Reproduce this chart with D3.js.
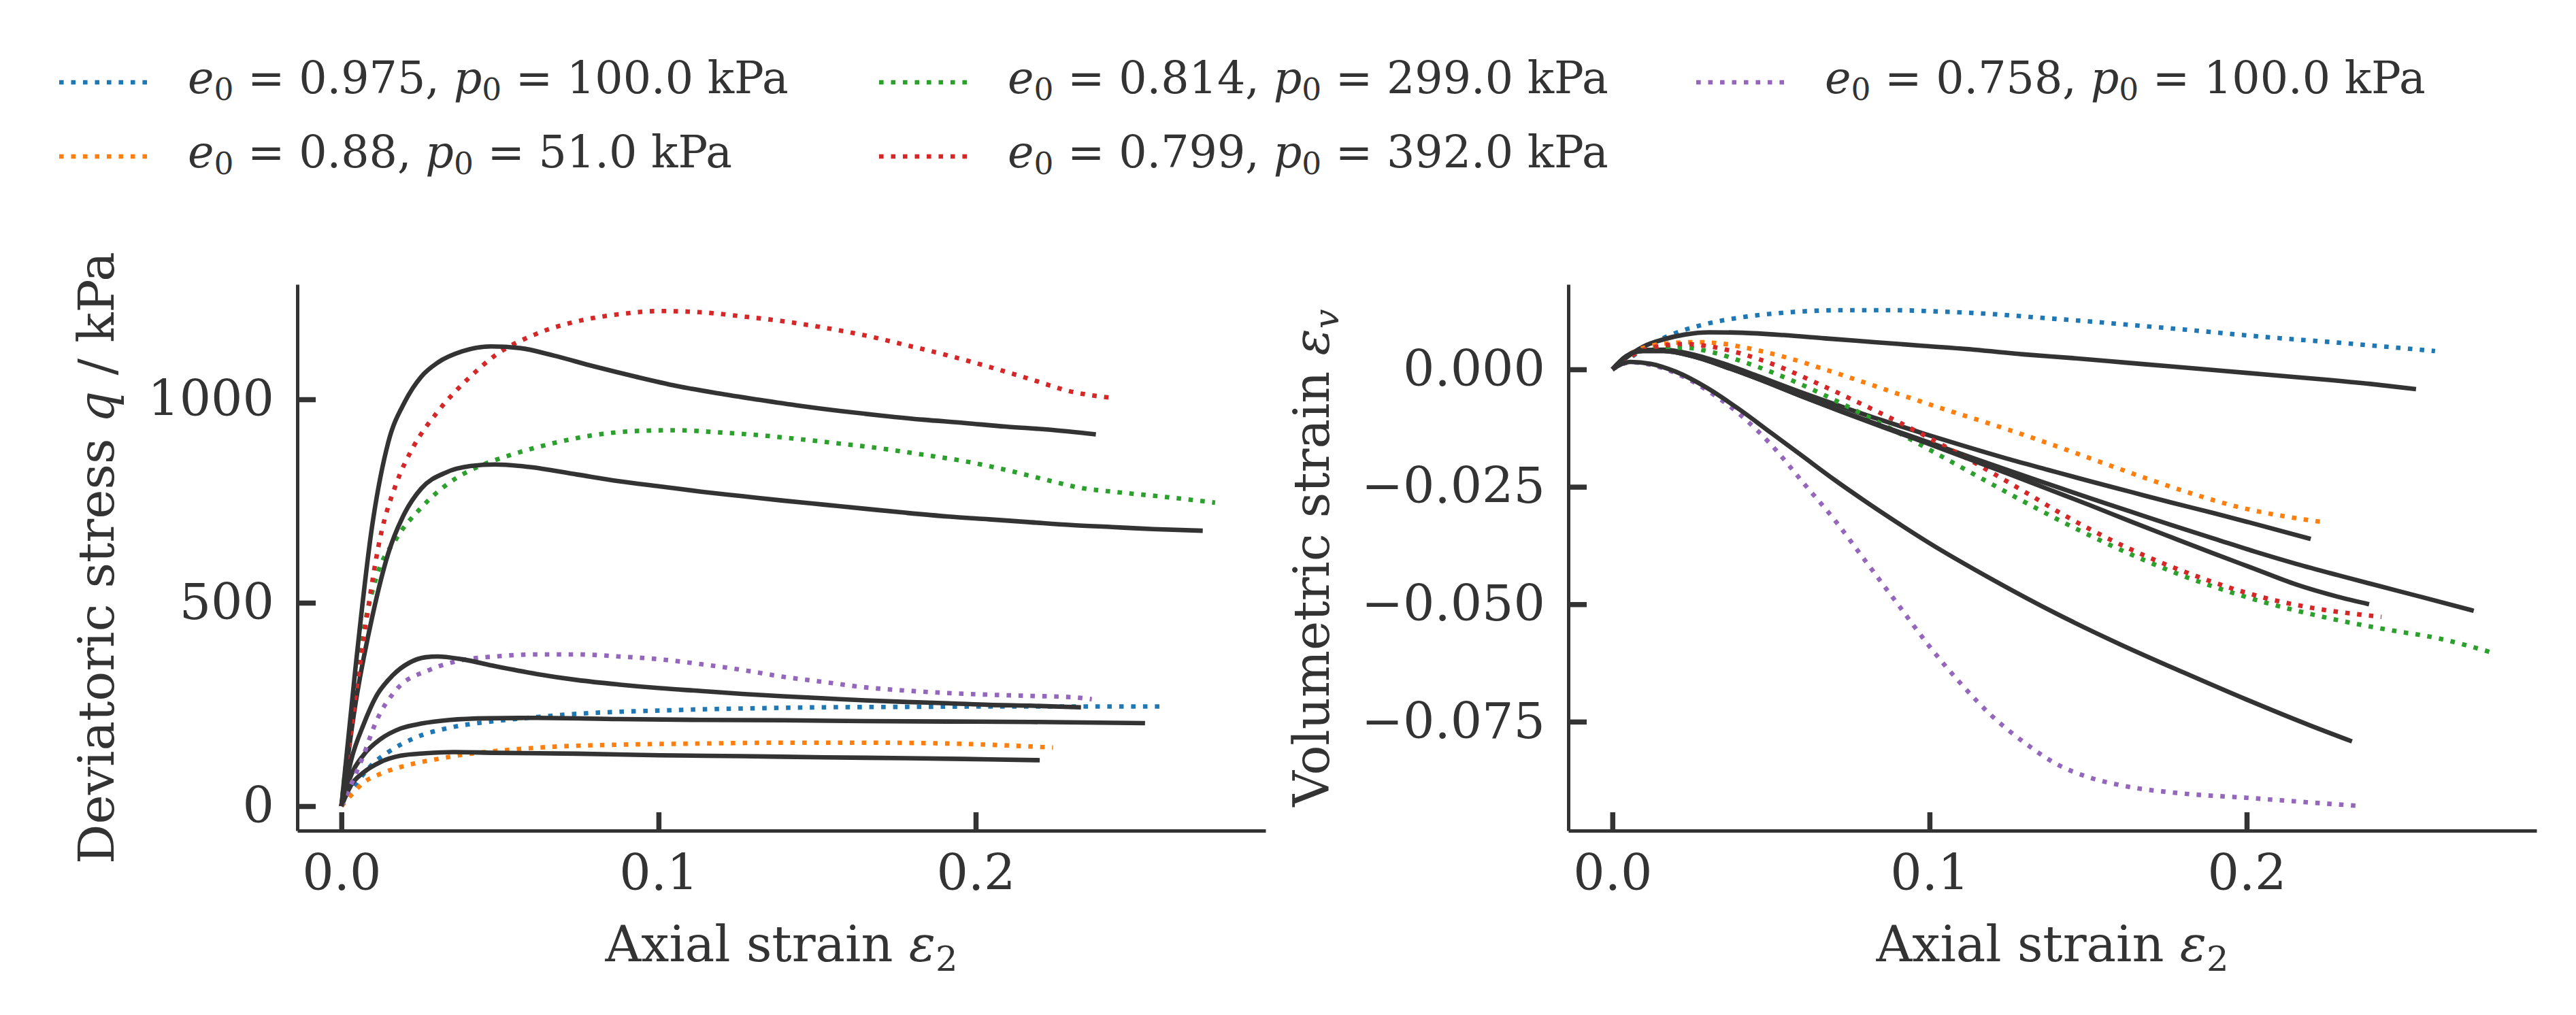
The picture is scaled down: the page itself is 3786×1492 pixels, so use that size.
<!DOCTYPE html>
<html><head><meta charset="utf-8">
<script src="https://cdn.jsdelivr.net/npm/d3@7"></script>
<style>
body{margin:0;background:#fff}
text{font-family:"DejaVu Serif",serif;fill:#333}
</style>
</head><body>
<svg id="chart" width="3786" height="1492" xmlns="http://www.w3.org/2000/svg"></svg>
<script>
// ---------------- DATA ----------------
const voidRatios = ["0.975", "0.88", "0.814", "0.799", "0.758"];
const pressures  = ["100.0", "51.0", "299.0", "392.0", "100.0"];
const seriesColors = ["#1f77b4", "#ff7f0e", "#2ca02c", "#d62728", "#9467bd"];

const xTicks = [0, 0.1, 0.2];
const xTickLabels = ["0.0", "0.1", "0.2"];
const qTicks = [0, 500, 1000];
const qTickLabels = ["0", "500", "1000"];
const evTicks = [0, -0.025, -0.05, -0.075];
const evTickLabels = ["0.000", "\u22120.025", "\u22120.050", "\u22120.075"];

// deviatoric stress, experiments (dotted) : [axial strain, q]
const expQ_975 = [[0,0],[0.0044,52],[0.0096,102],[0.0148,133],[0.0226,166],[0.0355,195],[0.0485,209],[0.0615,219],[0.0744,227],[0.0874,232],[0.1004,235],[0.1134,238],[0.1263,240],[0.1523,243],[0.1782,244],[0.2042,245],[0.2301,245],[0.2581,245]];
const expQ_880 = [[0,0],[0.0031,27],[0.007,58],[0.0122,79],[0.02,99],[0.0303,116],[0.0407,129],[0.0537,139],[0.0693,147],[0.0874,151],[0.1134,154],[0.1393,156],[0.1652,156],[0.1912,154],[0.2244,144]];
const expQ_814 = [[0,0],[0.0057,374],[0.0109,560],[0.0174,659],[0.0252,734],[0.0342,796],[0.0433,835],[0.0537,864],[0.0667,892],[0.0796,912],[0.0926,922],[0.1056,924],[0.1185,919],[0.1315,912],[0.1445,902],[0.1575,891],[0.1704,879],[0.1834,864],[0.1964,848],[0.2093,827],[0.2223,802],[0.2327,783],[0.2457,771],[0.2586,761],[0.2755,746]];
const expQ_799 = [[0,0],[0.007,411],[0.0122,659],[0.0174,795],[0.0226,882],[0.0303,969],[0.0407,1056],[0.0485,1108],[0.0615,1161],[0.0744,1192],[0.0874,1209],[0.1004,1217],[0.1134,1214],[0.1263,1204],[0.1393,1192],[0.1523,1176],[0.1652,1157],[0.1782,1133],[0.1912,1108],[0.2042,1080],[0.2171,1050],[0.2301,1019],[0.2425,1004]];
const expQ_758 = [[0,0],[0.007,126],[0.0109,207],[0.0174,287],[0.0278,335],[0.0381,359],[0.0485,368],[0.0615,373],[0.0744,373],[0.0874,368],[0.1004,361],[0.1134,349],[0.1263,335],[0.1393,318],[0.1523,305],[0.1652,292],[0.1782,284],[0.1912,278],[0.2042,274],[0.2171,271],[0.2301,268],[0.2366,263]];

// deviatoric stress, model (solid black)
const modQ_975 = [[0,0],[0.0031,77],[0.007,126],[0.0122,164],[0.0187,191],[0.0252,203],[0.0342,212],[0.0459,216],[0.0615,217],[0.0874,214],[0.1134,212],[0.1393,211],[0.1652,209],[0.1912,208],[0.2171,207],[0.2534,204]];
const modQ_880 = [[0,0],[0.0031,52],[0.007,83],[0.0122,108],[0.0187,124],[0.0265,130],[0.0355,133],[0.0485,131],[0.0744,129],[0.1004,125],[0.1263,123],[0.1523,120],[0.1782,118],[0.2042,115],[0.2202,113]];
const modQ_814 = [[0,0],[0.0044,250],[0.0096,461],[0.0148,622],[0.02,721],[0.0252,781],[0.0329,820],[0.0407,836],[0.0485,840],[0.0589,834],[0.0744,815],[0.0874,799],[0.1004,786],[0.1134,773],[0.1263,762],[0.1393,751],[0.1523,741],[0.1652,731],[0.1782,721],[0.1912,712],[0.2042,705],[0.2171,698],[0.2301,691],[0.2431,686],[0.256,681],[0.2716,677]];
const modQ_799 = [[0,0],[0.0044,337],[0.0096,684],[0.0148,895],[0.02,994],[0.0252,1056],[0.0303,1090],[0.0381,1118],[0.0472,1130],[0.0563,1126],[0.0667,1108],[0.0796,1081],[0.0926,1056],[0.1056,1033],[0.1185,1015],[0.1315,999],[0.1445,984],[0.1575,971],[0.1704,960],[0.1834,950],[0.1964,942],[0.2093,933],[0.2223,926],[0.2379,914]];
const modQ_758 = [[0,0],[0.0031,114],[0.007,201],[0.0109,269],[0.0161,321],[0.0213,352],[0.0265,366],[0.0303,368],[0.0381,361],[0.0485,344],[0.0615,325],[0.0744,310],[0.0874,299],[0.1004,290],[0.1134,283],[0.1263,276],[0.1393,270],[0.1523,265],[0.1652,260],[0.1782,256],[0.1912,253],[0.2042,249],[0.2171,247],[0.2332,243]];

// volumetric strain, experiments (dotted) : [axial strain, eps_v]
const expEv_975 = [[0,0],[0.0044,0.0019],[0.0096,0.0043],[0.0175,0.0071],[0.0279,0.0094],[0.0409,0.0111],[0.0566,0.0122],[0.0722,0.0126],[0.0879,0.0126],[0.1035,0.0123],[0.1192,0.0118],[0.1348,0.011],[0.1505,0.0102],[0.1661,0.0093],[0.1817,0.0084],[0.1974,0.0074],[0.213,0.0065],[0.2287,0.0057],[0.2443,0.0048],[0.2594,0.0039]];
const expEv_880 = [[0,0],[0.0044,0.0028],[0.011,0.0048],[0.0188,0.0056],[0.0266,0.0058],[0.0344,0.0055],[0.0435,0.0044],[0.054,0.0027],[0.067,0.0],[0.08,-0.0029],[0.0931,-0.0059],[0.1061,-0.0088],[0.1192,-0.0116],[0.1322,-0.0145],[0.1452,-0.0176],[0.1583,-0.0208],[0.1713,-0.0239],[0.1844,-0.0268],[0.1974,-0.0293],[0.2104,-0.0311],[0.225,-0.0326]];
const expEv_814 = [[0,0],[0.007,0.0035],[0.0149,0.0046],[0.0227,0.0046],[0.0305,0.0038],[0.0409,0.0017],[0.0514,-0.0009],[0.0644,-0.0047],[0.0774,-0.009],[0.0905,-0.0136],[0.1035,-0.0184],[0.1166,-0.0233],[0.1296,-0.0281],[0.1426,-0.0327],[0.1557,-0.037],[0.1687,-0.0409],[0.1817,-0.0444],[0.1948,-0.0474],[0.2078,-0.05],[0.2209,-0.0522],[0.2339,-0.0541],[0.2469,-0.0557],[0.26,-0.0572],[0.2769,-0.0602]];
const expEv_799 = [[0,0],[0.0057,0.0028],[0.0136,0.0048],[0.0227,0.0054],[0.0305,0.0049],[0.0409,0.0033],[0.0514,0.0009],[0.0644,-0.0029],[0.0774,-0.007],[0.0905,-0.0113],[0.1035,-0.0159],[0.1166,-0.0208],[0.1296,-0.0259],[0.1426,-0.0311],[0.1557,-0.0358],[0.1687,-0.0399],[0.1817,-0.0434],[0.1948,-0.0465],[0.2078,-0.049],[0.2209,-0.0508],[0.2425,-0.0527]];
const expEv_758 = [[0,0],[0.0057,0.0015],[0.012,0.001],[0.02,-0.0008],[0.03,-0.0045],[0.04,-0.0095],[0.05,-0.016],[0.06,-0.024],[0.07,-0.032],[0.08,-0.041],[0.09,-0.05],[0.1,-0.059],[0.11,-0.067],[0.12,-0.074],[0.13,-0.0795],[0.14,-0.084],[0.15,-0.0868],[0.16,-0.0885],[0.18,-0.0903],[0.2,-0.0912],[0.22,-0.0922],[0.2366,-0.093]];

// volumetric strain, model (solid black)
const modEv_975 = [[0,0],[0.0044,0.0025],[0.0096,0.0048],[0.0162,0.0064],[0.0227,0.0074],[0.0305,0.0079],[0.0409,0.0078],[0.054,0.0073],[0.067,0.0066],[0.0827,0.0058],[0.0983,0.005],[0.114,0.0042],[0.1296,0.0032],[0.1452,0.0024],[0.1609,0.0015],[0.1765,0.0006],[0.1922,-0.0003],[0.2078,-0.0012],[0.2235,-0.0021],[0.2391,-0.0031],[0.2534,-0.0042]];
const modEv_880 = [[0,0],[0.0044,0.0028],[0.0096,0.0041],[0.0162,0.0042],[0.0253,0.0032],[0.0357,0.0011],[0.0462,-0.0015],[0.0592,-0.0048],[0.0722,-0.0079],[0.0853,-0.0109],[0.0983,-0.0137],[0.1113,-0.0164],[0.1244,-0.019],[0.1374,-0.0214],[0.1505,-0.0238],[0.1635,-0.0261],[0.1765,-0.0284],[0.1896,-0.0306],[0.2026,-0.0329],[0.2202,-0.0361]];
const modEv_814 = [[0,0],[0.0044,0.0028],[0.0096,0.0039],[0.0162,0.0039],[0.0253,0.0028],[0.0357,0.0005],[0.0462,-0.0021],[0.0592,-0.0056],[0.0722,-0.0089],[0.0853,-0.0121],[0.0983,-0.0152],[0.1113,-0.0183],[0.1244,-0.0214],[0.1374,-0.0244],[0.1505,-0.0274],[0.1635,-0.0303],[0.1765,-0.0332],[0.1896,-0.036],[0.2026,-0.0388],[0.2156,-0.0414],[0.2287,-0.0438],[0.2417,-0.0461],[0.2548,-0.0484],[0.2716,-0.0514]];
const modEv_799 = [[0,0],[0.0044,0.0028],[0.0096,0.0039],[0.0162,0.0039],[0.0253,0.0028],[0.0357,0.0005],[0.0462,-0.0021],[0.0592,-0.0056],[0.0722,-0.009],[0.0853,-0.0123],[0.0983,-0.0155],[0.1113,-0.0188],[0.1244,-0.0221],[0.1374,-0.0255],[0.1505,-0.0289],[0.1635,-0.0324],[0.1765,-0.0358],[0.1896,-0.0392],[0.2026,-0.0425],[0.2156,-0.0458],[0.2287,-0.0484],[0.2386,-0.05]];
const modEv_758 = [[0,0],[0.0057,0.0016],[0.012,0.0012],[0.02,-0.0005],[0.03,-0.004],[0.04,-0.0085],[0.05,-0.0135],[0.06,-0.0185],[0.07,-0.0235],[0.08,-0.0282],[0.09,-0.0327],[0.1,-0.037],[0.12,-0.0448],[0.14,-0.052],[0.16,-0.0585],[0.18,-0.0645],[0.2,-0.0703],[0.22,-0.0758],[0.2332,-0.0792]];

const expQ  = [expQ_975, expQ_880, expQ_814, expQ_799, expQ_758];
const modQ  = [modQ_975, modQ_880, modQ_814, modQ_799, modQ_758];
const expEv = [expEv_975, expEv_880, expEv_814, expEv_799, expEv_758];
const modEv = [modEv_975, modEv_880, modEv_814, modEv_799, modEv_758];

// ---------------- DRAWING ----------------
const svg = d3.select("#chart");
svg.append("rect").attr("width", 3786).attr("height", 1492).attr("fill", "#fff");

const INK = "#333333";
const TICK_FONT = 73;
const LINE_W = 6.6;
const DOT = [LINE_W, LINE_W * 1.65];

const xDom = [-0.0139, 0.2914];
const panels = [
  { x0: 437, x1: 1860, yDom: [-60.2, 1282.6], ticks: qTicks, labels: qTickLabels, exp: expQ, mod: modQ },
  { x0: 2305, x1: 3728, yDom: [-0.0982, 0.0181], ticks: evTicks, labels: evTickLabels, exp: expEv, mod: modEv }
];
const yTop = 418, yBot = 1221;

panels.forEach((p, pi) => {
  const x = d3.scaleLinear().domain(xDom).range([p.x0, p.x1]);
  const y = d3.scaleLinear().domain(p.yDom).range([yBot, yTop]);
  const g = svg.append("g");

  const line = d3.line().x(d => x(d[0])).y(d => y(d[1])).curve(d3.curveMonotoneX);

  for (let i = 0; i < 5; i++) {
    g.append("path").attr("d", line(p.exp[i])).attr("fill", "none")
      .attr("stroke", seriesColors[i]).attr("stroke-width", LINE_W)
      .attr("stroke-dasharray", DOT.join(","));
    g.append("path").attr("d", line(p.mod[i])).attr("fill", "none")
      .attr("stroke", INK).attr("stroke-width", LINE_W).attr("stroke-linejoin", "round");
  }

  // axes
  const xAxis = d3.axisBottom(x).tickValues(xTicks).tickFormat((d, i) => xTickLabels[i])
    .tickSizeInner(-27).tickSizeOuter(0).tickPadding(35);
  const gx = svg.append("g").attr("transform", `translate(0,${yBot})`).call(xAxis);
  const yAxis = d3.axisLeft(y).tickValues(p.ticks).tickFormat((d, i) => p.labels[i])
    .tickSizeInner(-27).tickSizeOuter(0).tickPadding(34);
  const gy = svg.append("g").attr("transform", `translate(${p.x0},0)`).call(yAxis);
  [gx, gy].forEach(ga => {
    ga.select(".domain").attr("stroke", INK).attr("stroke-width", 5);
    ga.selectAll(".tick line").attr("stroke", INK).attr("stroke-width", 7.5);
    ga.selectAll(".tick text").attr("font-family", "DejaVu Serif").attr("font-size", TICK_FONT).attr("fill", INK);
  });

  // x label
  const xl = svg.append("text").attr("x", (p.x0 + p.x1) / 2).attr("y", 1413)
    .attr("text-anchor", "middle").attr("font-size", TICK_FONT);
  xl.append("tspan").text("Axial strain ");
  xl.append("tspan").attr("font-style", "italic").text("\u03b5");
  xl.append("tspan").attr("font-size", TICK_FONT * 0.7).attr("dy", 14).text("2");
});

// y labels
const ylL = svg.append("text").attr("transform", "translate(167,820) rotate(-90)")
  .attr("text-anchor", "middle").attr("font-size", TICK_FONT);
ylL.append("tspan").text("Deviatoric stress ");
ylL.append("tspan").attr("font-style", "italic").text("q");
ylL.append("tspan").text(" / kPa");

const ylR = svg.append("text").attr("transform", "translate(1953,820) rotate(-90)")
  .attr("text-anchor", "middle").attr("font-size", TICK_FONT);
ylR.append("tspan").text("Volumetric strain ");
ylR.append("tspan").attr("font-style", "italic").text("\u03b5");
ylR.append("tspan").attr("font-style", "italic").attr("font-size", TICK_FONT * 0.7).attr("dy", 14).text("v");

// legend (3 columns, filled column-wise)
const LEG_FONT = 65;
const legCols = [87, 1292, 2493];
const legRows = [121, 230];
voidRatios.forEach((e0, i) => {
  const col = Math.floor(i / 2), row = i % 2;
  const lx = legCols[col], ly = legRows[row];
  svg.append("line").attr("x1", lx).attr("x2", lx + 134).attr("y1", ly).attr("y2", ly)
    .attr("stroke", seriesColors[i]).attr("stroke-width", LINE_W)
    .attr("stroke-dasharray", DOT.join(","));
  const t = svg.append("text").attr("x", lx + 189).attr("y", ly + 16).attr("font-size", LEG_FONT);
  t.append("tspan").attr("font-style", "italic").text("e");
  t.append("tspan").attr("font-size", LEG_FONT * 0.7).attr("dy", 10).text("0");
  t.append("tspan").attr("dy", -10).text(" = " + e0 + ", ");
  t.append("tspan").attr("font-style", "italic").text("p");
  t.append("tspan").attr("font-size", LEG_FONT * 0.7).attr("dy", 10).text("0");
  t.append("tspan").attr("dy", -10).text(" = " + pressures[i] + " kPa");
});
</script>
</body></html>
